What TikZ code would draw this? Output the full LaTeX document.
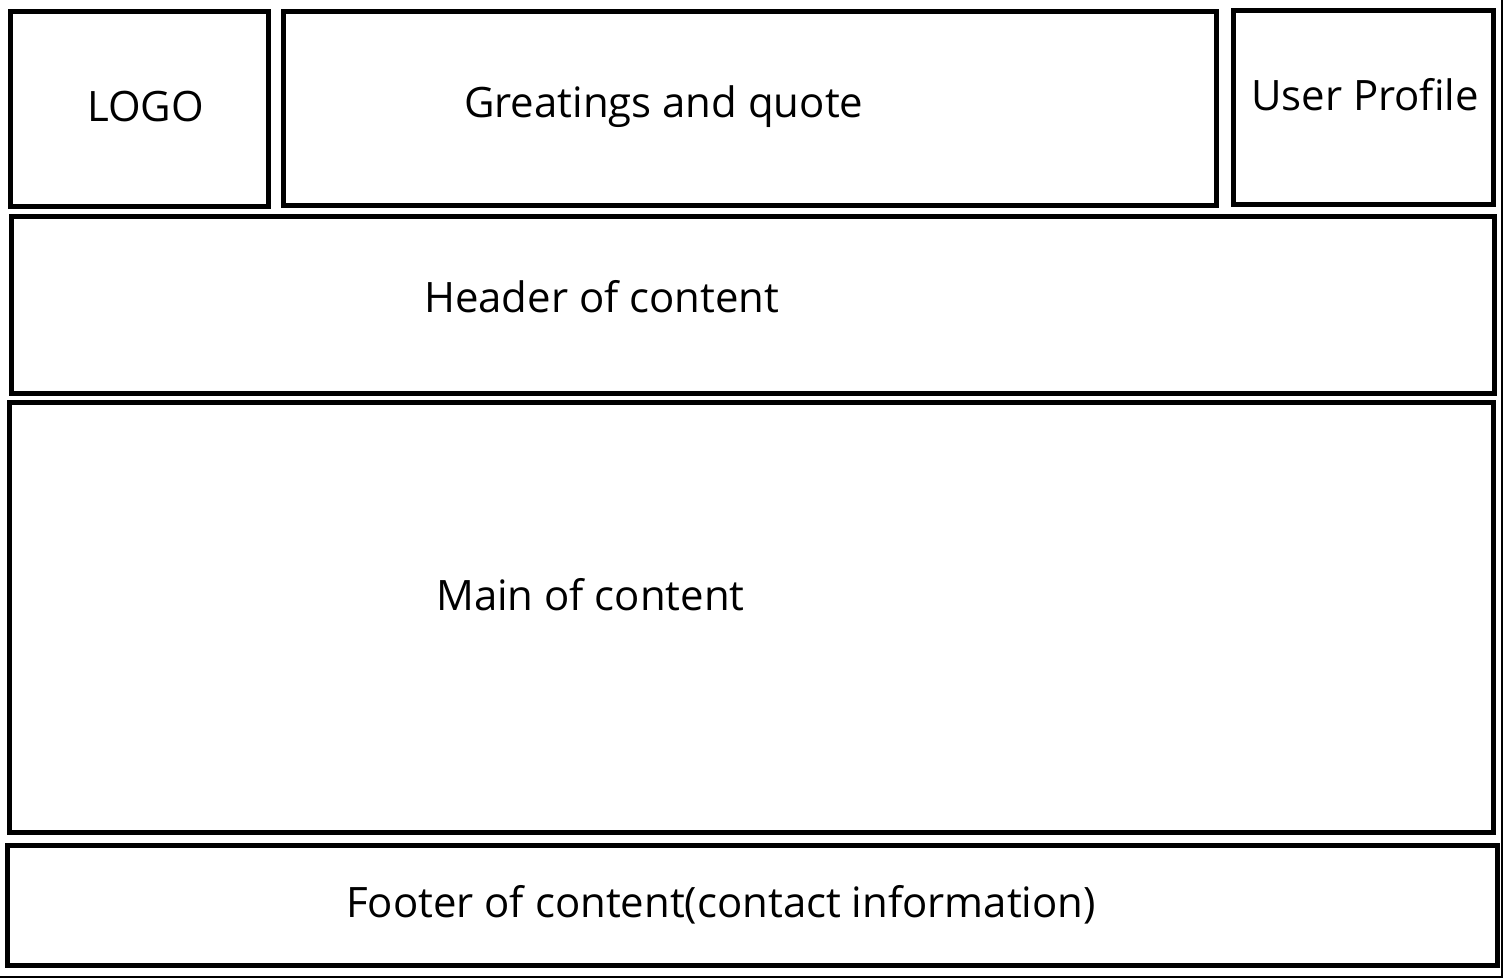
\documentclass[tikz,border=0pt]{standalone}
\usepackage{fontspec}
\setmainfont[Ligatures=NoCommon]{Open Sans}
\begin{document}
\begin{tikzpicture}[x=1pt,y=-1pt,
  panel/.style={draw=black,line width=5pt,rectangle,inner sep=0pt,outer sep=0pt},
  lbl/.style={anchor=base west,inner sep=0pt,font=\fontsize{41.9}{50}\selectfont}]
\useasboundingbox (0,0) rectangle (1505,979);
\draw[line width=1.5pt] (-2,-2) rectangle (1502,977);
% panels
\node[panel,minimum width=257.3pt,minimum height=195pt] (logo) at (139.35,109) {};
\node[panel,minimum width=932.5pt,minimum height=194pt] (greet) at (749.75,108.5) {};
\node[panel,minimum width=260pt,minimum height=193pt] (user) at (1363.5,107.5) {};
\node[panel,minimum width=1482.5pt,minimum height=176.5pt] (header) at (752.75,304.75) {};
\node[panel,minimum width=1484.5pt,minimum height=430pt] (main) at (751.25,617.5) {};
\node[panel,minimum width=1489.5pt,minimum height=120pt] (footer) at (752.25,905) {};
% labels
\node[lbl] (tlogo) at (87,122) {LOGO};
\node[lbl] (tgreet) at (464,118) {Greatings and quote};
\node[lbl] (tuser) at (1251,110.5) {User Profile};
\node[lbl] (theader) at (424,312.5) {Header of content};
\node[lbl] (tmain) at (436,610.5) {Main of content};
\node[lbl] (tfooter) at (346,917) {Footer of content(contact information)};
\end{tikzpicture}
\end{document}
